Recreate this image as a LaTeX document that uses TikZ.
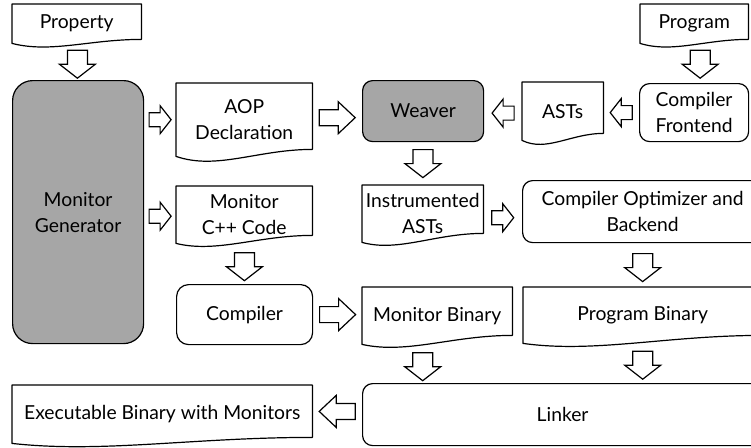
\documentclass[tikz,border=0pt]{standalone}
\usepackage{fontspec}
\setmainfont{Lato}
\usetikzlibrary{calc}
\definecolor{boxgray}{RGB}{166,166,166}
\tikzset{
  x=1pt, y=-1pt,
  every node/.style={font=\fontsize{19.3}{26}\selectfont},
  docline/.style={line width=1.2pt, line join=round},
  boxnode/.style={anchor=north west, inner sep=0pt, align=center},
  rbox/.style={boxnode, draw, line width=1.2pt, rounded corners=10pt},
  gbox/.style={rbox, fill=boxgray},
  barrowline/.style={line width=1.2pt, fill=white, line join=miter},
  rbig/.pic={\draw[barrowline] (-18,-8) -- (1,-8) -- (1,-16) -- (18,0) -- (1,16) -- (1,8) -- (-18,8) -- cycle;},
  lbig/.pic={\draw[barrowline] (18,-8) -- (-1,-8) -- (-1,-16) -- (-18,0) -- (-1,16) -- (-1,8) -- (18,8) -- cycle;},
  rsmall/.pic={\draw[barrowline] (-11,-7) -- (0,-7) -- (0,-14) -- (11,0) -- (0,14) -- (0,7) -- (-11,7) -- cycle;},
  lsmall/.pic={\draw[barrowline] (11,-7) -- (0,-7) -- (0,-14) -- (-11,0) -- (0,14) -- (0,7) -- (11,7) -- cycle;},
  darrow/.pic={\draw[barrowline] (-10,-14) -- (10,-14) -- (10,0) -- (18,0) -- (0,14) -- (-18,0) -- (-10,0) -- cycle;},
}
\newcommand\docshape[3]{%
  \draw[docline] (#1.south west) -- (#1.north west) -- (#1.north east) -- ($(#1.south east)+(0,-#2)$)
    .. controls ($(#1.south west)!0.6!(#1.south east)+(0,-#2)$) and ($(#1.south west)!0.3!(#1.south east)+(0,#3)$) .. (#1.south west) -- cycle;}
\begin{document}
\begin{tikzpicture}
\useasboundingbox (0,0) rectangle (751,447);
\clip (0,0) rectangle (751,447);

% document-like boxes
\node[boxnode, minimum width=129pt, minimum height=39pt] (prop) at (12,4) {Property};
\node[boxnode, minimum width=108pt, minimum height=39pt] (prog) at (640,4) {Program};
\node[boxnode, minimum width=136pt, minimum height=73pt] (aop) at (176,83) {AOP\\Declaration};
\node[boxnode, minimum width=81pt, minimum height=58pt] (asts) at (522,82) {ASTs};
\node[boxnode, minimum width=136pt, minimum height=57pt] (cpp) at (176,186) {Monitor\\C++ Code};
\node[boxnode, minimum width=121pt, minimum height=57pt] (instr) at (362,185) {Instrumented\\ASTs};
\node[boxnode, minimum width=150pt, minimum height=57pt] (mb) at (362,287) {Monitor Binary};
\node[boxnode, minimum width=239pt, minimum height=56pt] (pb) at (523,287) {Program Binary};
\node[boxnode, minimum width=300pt, minimum height=58pt] (exe) at (12,385) {Executable Binary with Monitors};

\docshape{prop}{4}{10}
\docshape{prog}{4}{10}
\docshape{aop}{7}{14}
\docshape{asts}{7}{12}
\docshape{cpp}{8}{10}
\docshape{instr}{9}{10}
\docshape{mb}{9}{10}
\docshape{pb}{8}{10}
\docshape{exe}{6}{10}

% rounded boxes
\node[gbox, rounded corners=20pt, minimum width=131pt, minimum height=263pt] (mg) at (12,80) {Monitor\\Generator};
\node[gbox, minimum width=121pt, minimum height=61pt] (weaver) at (362,80) {Weaver};
\node[rbox, minimum width=109pt, minimum height=58pt] (fe) at (639,83) {Compiler\\Frontend};
\node[rbox, minimum width=240pt, minimum height=62pt] (opt) at (522,180) {Compiler Optimizer and\\Backend};
\node[rbox, rounded corners=12pt, minimum width=136pt, minimum height=60pt] (comp) at (176,284) {Compiler};
\node[rbox, minimum width=400pt, minimum height=62pt] (linker) at (362,383) {Linker};

% block arrows
\pic at ($(prop.south)!0.5!(mg.north)+(0,2.5)$) {darrow};
\pic at ($(prog.south)!0.5!(fe.north)+(6,1)$) {darrow};
\pic at ($(mg.east |- aop.west)!0.5!(aop.west)$) {rsmall};
\pic at ($(aop.east)!0.5!(weaver.west |- aop.east)+(0,-2)$) {rbig};
\pic at ($(weaver.east)!0.5!(asts.west |- weaver.east)+(0,2)$) {lsmall};
\pic at ($(asts.east |- fe.west)!0.5!(fe.west)$) {lsmall};
\pic at ($(weaver.south)!0.5!(instr.north)$) {darrow};
\pic at ($(mg.east |- cpp.west)!0.5!(cpp.west)+(0,1.5)$) {rsmall};
\pic at ($(instr.east)!0.5!(opt.west |- instr.east)+(0,4)$) {rsmall};
\pic at ($(cpp.south)!0.5!(comp.north)+(0,3)$) {darrow};
\pic at ($(opt.south)!0.5!(pb.north)+(0,2.5)$) {darrow};
\pic at ($(comp.east)!0.5!(mb.west |- comp.east)$) {rbig};
\pic at ($(mb.south)!0.5!(linker.north -| mb.south)+(-14.5,3)$) {darrow};
\pic at ($(pb.south)!0.5!(linker.north -| pb.south)+(0,2)$) {darrow};
\pic at ($(exe.east)!0.5!(linker.west)+(0,-3)$) {lbig};
\end{tikzpicture}
\end{document}
